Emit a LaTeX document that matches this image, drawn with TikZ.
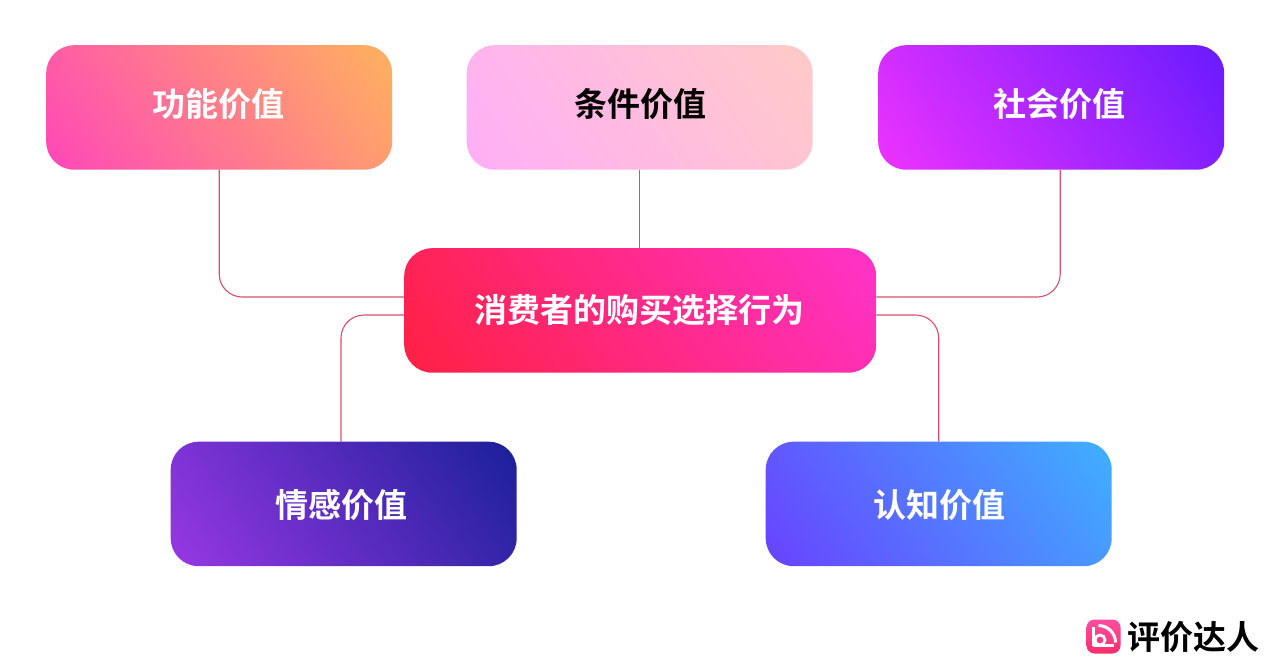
\documentclass[tikz,border=0pt]{standalone}
\usepackage{fontspec}
\usetikzlibrary{calc}
\setmainfont{Noto Sans CJK SC}[BoldFont={* Bold}]
\newfontfamily\cjkb{Noto Sans CJK SC Bold}
\definecolor{linec}{HTML}{D94F6C}
\definecolor{fa}{HTML}{FF45BA}\definecolor{fb}{HTML}{FFB45C}
\definecolor{ca}{HTML}{FFAEF8}\definecolor{cb}{HTML}{FFCBC6}
\definecolor{sa}{HTML}{F033FF}\definecolor{sb}{HTML}{661AFF}
\definecolor{ma}{HTML}{FF2040}\definecolor{mb}{HTML}{FF33CC}
\definecolor{ea}{HTML}{9A38E6}\definecolor{eb}{HTML}{181F98}
\definecolor{ga}{HTML}{6A40FF}\definecolor{gb}{HTML}{3EB2FF}
\definecolor{la}{HTML}{FF4FA0}\definecolor{lb}{HTML}{FF2C6C}
\newcommand\cardshade[3]{\pgfdeclareverticalshading{#1}{100bp}{color(0bp)=(#3); color(14bp)=(#3); color(86bp)=(#2); color(100bp)=(#2)}}
\cardshade{sfunc}{fa}{fb}
\cardshade{scond}{ca}{cb}
\cardshade{ssoc}{sa}{sb}
\cardshade{smid}{ma}{mb}
\cardshade{semo}{ea}{eb}
\cardshade{scog}{ga}{gb}
\tikzset{
  card/.style={shade,shading=#1,shading angle=125,rounded corners=28pt,inner sep=0pt,minimum height=124.5pt,minimum width=346pt,anchor=north west},
  lbl/.style={font=\cjkb\fontsize{33pt}{36pt}\selectfont,inner sep=0pt,text=white},
  conn/.style={draw=linec,line width=1.1pt,rounded corners=23pt},
}
\begin{document}
\begin{tikzpicture}[x=1pt,y=-1pt]
\useasboundingbox (0,0) rectangle (1280,672);
\node[card=sfunc] (func) at (46,45) {};
\node[card=scond] (cond) at (466.5,45) {};
\node[card=ssoc] (soc) at (878,45) {};
\node[card=smid,minimum width=472pt] (mid) at (404,248) {};
\node[card=semo] (emo) at (170.5,441.5) {};
\node[card=scog] (cog) at (765.5,441.5) {};
\coordinate (ml1) at ($(mid.north west)+(0,49)$);
\coordinate (ml2) at ($(mid.north west)+(0,67)$);
\coordinate (mr1) at ($(mid.north east)+(0,49)$);
\coordinate (mr2) at ($(mid.north east)+(0,67)$);
\coordinate (socd) at ($(soc.south)+(9,0)$);
\coordinate (emou) at ($(emo.north)+(-2.7,0)$);
\draw[conn] (func.south) |- (ml1);
\draw[conn] (socd) |- (mr1);
\draw[conn] (cond.south) -- (mid.north -| cond.south);
\draw[conn] (emou) |- (ml2);
\draw[conn] (cog.north) |- (mr2);
\node[lbl] (t1) at (218.5,104.5) {功能价值};
\node[lbl,text=black] (t2) at (640,104.5) {条件价值};
\node[lbl] (t3) at (1059.5,104.5) {社会价值};
\node[lbl] (t4) at (639,310.5) {消费者的购买选择行为};
\node[lbl] (t5) at (341.5,505) {情感价值};
\node[lbl] (t6) at (939,505) {认知价值};
\node[rounded corners=8pt,inner sep=0pt,minimum size=34pt,shading=axis,top color=la,bottom color=lb] (logo) at (1103.5,636.5) {};
\draw[white,line width=3pt,line join=round] ($(logo.center)+(-10,-10)$) -- ++(0,19) -- ++(6,0);
\draw[white,line width=2.8pt] ($(logo.center)+(-3.5,3.5)$) circle (5pt);
\draw[white,line width=3pt] ($(logo.center)+(-5,-11)$) arc[start angle=90,end angle=0,radius=17pt];
\draw[white,line width=3pt] ($(logo.center)+(-4,9)$) -- ++(14,0);
\node[font=\cjkb\fontsize{33pt}{36pt}\selectfont,inner sep=0pt,text=black] (brand) at (1193,637) {评价达人};
\end{tikzpicture}
\end{document}
